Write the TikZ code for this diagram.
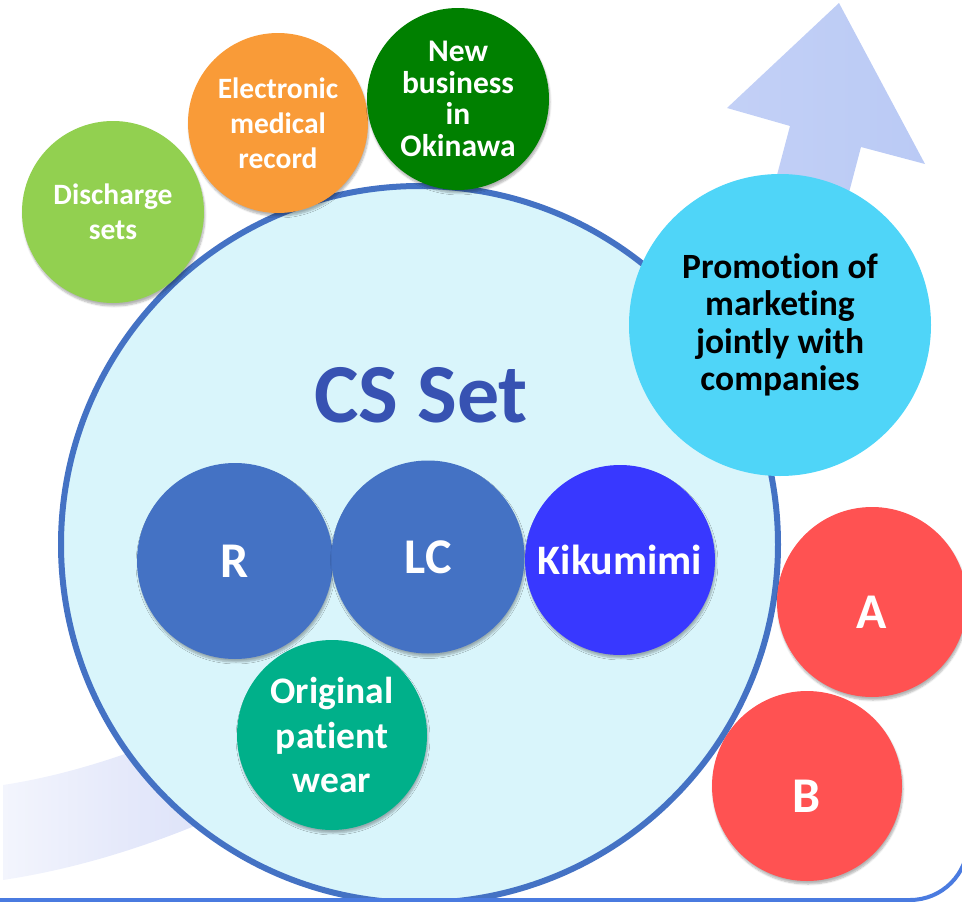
\documentclass[tikz,border=0pt]{standalone}
\usepackage{fontspec}
\setmainfont{Carlito}[Ligatures=NoCommon]
\usetikzlibrary{shadows.blur}

\definecolor{setfill}{HTML}{D9F5FB}
\definecolor{setline}{HTML}{4472C4}
\definecolor{settext}{HTML}{3752B2}
\definecolor{framecol}{HTML}{4A7BE0}
\definecolor{arrowblue}{HTML}{BACAF5}
\definecolor{bandpale}{HTML}{F3F5FD}
\definecolor{bandlight}{HTML}{E4E8FA}
\definecolor{bandmid}{HTML}{D7DEF8}
\definecolor{lime}{HTML}{92D050}
\definecolor{orng}{HTML}{F99B38}
\definecolor{dkgreen}{HTML}{008000}
\definecolor{skyc}{HTML}{4FD5F8}
\definecolor{prodblue}{HTML}{4472C4}
\definecolor{vivid}{HTML}{3838FF}
\definecolor{teal2}{HTML}{00B08A}
\definecolor{coral}{HTML}{FF5252}

% fading band behind the set, pale on the left and blue at the head
\pgfdeclarehorizontalshading{bandfade}{100bp}{color(0bp)=(bandpale); color(25bp)=(bandpale); color(32bp)=(bandlight); color(40bp)=(bandmid); color(75bp)=(arrowblue); color(100bp)=(arrowblue)}

\begin{document}
\begin{tikzpicture}[x=1pt, y=-1pt,
  bub/.style={circle, inner sep=0pt, align=center, text=white, font=\bfseries,
    blur shadow={shadow xshift=1pt, shadow yshift=-3pt, shadow blur steps=6, shadow opacity=30}},
  sm/.style={font=\fontsize{29.5}{35}\selectfont\bfseries},
  md/.style={font=\fontsize{37.5}{44.5}\selectfont\bfseries},
  lg/.style={font=\fontsize{50}{60}\selectfont\bfseries},
  frame/.style={draw=framecol, line width=4pt, rounded corners=58pt}
]
  \useasboundingbox (0,0) rectangle (962,902);
  \clip (0,0) rectangle (962,902);

  % growth arrow
  \shade[shading=bandfade] (3,785) .. controls (330,735) and (730,380) .. (777,175)
    -- (790,126) -- (727,108) -- (839,3) -- (925,164) -- (861,147) -- (851,185)
    .. controls (790,420) and (400,820) .. (3,880) -- cycle;

  % the set and its contents
  \node[circle, fill=setfill, draw=setline, line width=6pt, minimum size=717pt, inner sep=0pt] (cs) at (419.5,544.5) {};
  \node[text=settext, font=\fontsize{84}{90}\selectfont\bfseries] (cstitle) at (421,395) {CS Set};

  \draw[frame] (-60,-60) rectangle (968,900);

  \node[bub, lg, fill=prodblue, minimum size=196pt] (r)    at (235,561) {R};
  \node[bub, lg, fill=prodblue, minimum size=193pt] (lc)   at (428,557) {LC};
  \node[bub, fill=vivid, minimum size=190pt, font=\fontsize{42}{48}\selectfont\bfseries] (kiku) at (620,560) {Kikumimi};
  \node[bub, md, fill=teal2, minimum size=190pt] (wear) at (332,735) {Original\\patient\\wear};

  % around the set
  \node[bub, sm, fill=lime, minimum size=182pt] (disc) at (113,212) {Discharge\\sets};
  \node[bub, sm, fill=orng, minimum size=180pt] (emr)  at (278,123) {Electronic\\medical\\record};
  \node[bub, fill=dkgreen, minimum size=182pt, font=\fontsize{31.5}{31.5}\selectfont\bfseries] (oki) at (458,99) {New\\business\\in\\Okinawa};
  \node[circle, inner sep=0pt, align=center, fill=skyc, minimum size=302pt, font=\fontsize{35.5}{37.5}\selectfont\bfseries] (promo) at (780,325) {Promotion of\\marketing\\jointly with\\companies};

  \node[bub, lg, fill=coral, minimum size=190pt, text height=53pt, text depth=0pt] (a) at (872,602) {A};
  \node[bub, lg, fill=coral, minimum size=190pt, text height=53pt, text depth=0pt] (b) at (807,786) {B};
\end{tikzpicture}
\end{document}
